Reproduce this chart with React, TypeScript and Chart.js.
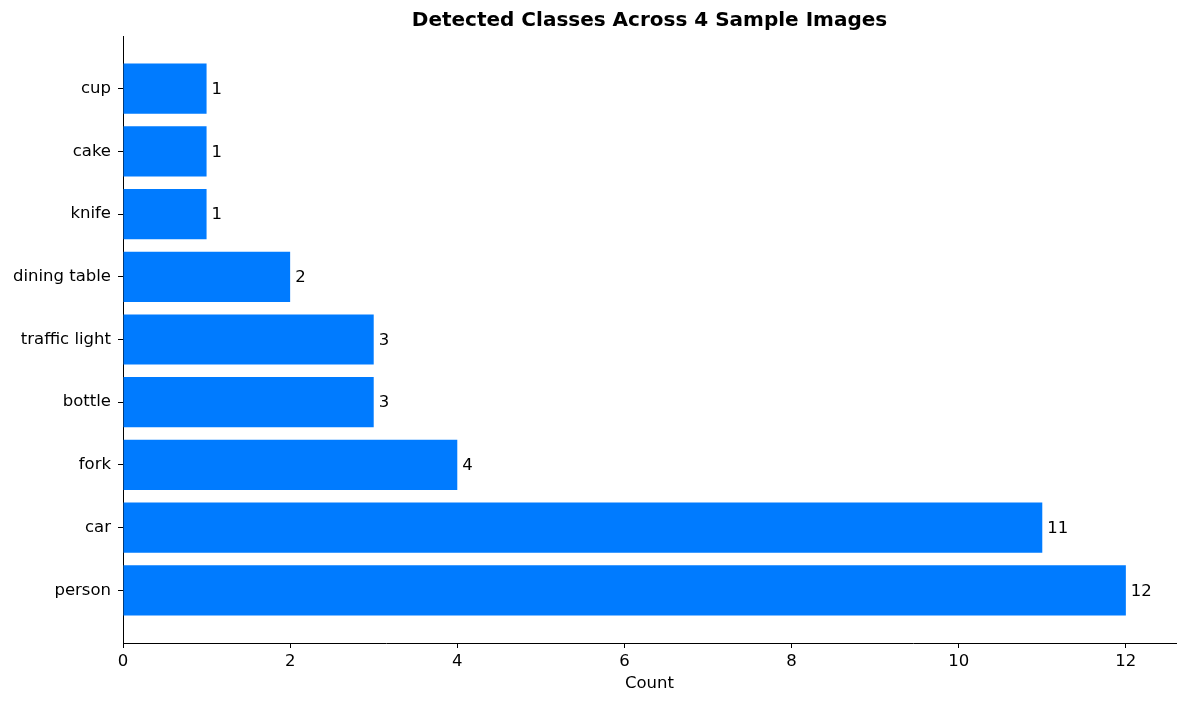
import React, { useEffect, useRef } from "react";
import { Chart, registerables } from "chart.js";

Chart.register(...registerables);

const categories = ["person", "car", "fork", "bottle", "traffic light", "dining table", "knife", "cake", "cup"];
const counts = [12, 11, 4, 3, 3, 2, 1, 1, 1];
const xTicks = [0, 2, 4, 6, 8, 10, 12];
const titleText = "Detected Classes Across 4 Sample Images";
const xLabel = "Count";
const barColor = "#007bff";
const FONT = "'DejaVu Sans', sans-serif";
const FS = 16.5;

export default function App() {
  const ref = useRef<HTMLCanvasElement | null>(null);

  useEffect(() => {
    document.body.style.margin = "0";
    const canvas = ref.current;
    if (!canvas) return;

    const overlay = {
      id: "overlay",
      afterDatasetsDraw(chart: any) {
        const ctx = chart.ctx;
        const meta = chart.getDatasetMeta(0);
        ctx.save();
        ctx.font = `${FS}px ${FONT}`;
        ctx.fillStyle = "#000";
        ctx.textAlign = "left";
        ctx.textBaseline = "middle";
        meta.data.forEach((bar: any, i: number) => {
          ctx.fillText(String(counts[i]), bar.x + 5, bar.y + 1);
        });
        ctx.restore();
      },
      afterDraw(chart: any) {
        const ctx = chart.ctx;
        const area = chart.chartArea;
        const cx = (area.left + area.right) / 2;
        ctx.save();
        ctx.fillStyle = "#000";
        ctx.textAlign = "center";
        ctx.textBaseline = "middle";
        ctx.font = `bold 20px ${FONT}`;
        ctx.fillText(titleText, cx, 21);
        ctx.font = `${FS}px ${FONT}`;
        ctx.fillText(xLabel, cx, 684);
        ctx.restore();
      },
    };

    const chart = new Chart(canvas, {
      type: "bar",
      data: {
        datasets: [
          {
            data: counts.map((v, i) => ({ x: v, y: i })),
            backgroundColor: barColor,
            borderWidth: 0,
            barPercentage: 1,
            categoryPercentage: 0.8,
          },
        ],
      },
      options: {
        indexAxis: "y",
        animation: false,
        responsive: false,
        maintainAspectRatio: false,
        layout: { padding: { left: 0, top: 36, right: 12, bottom: 0 } },
        plugins: {
          legend: { display: false },
          title: { display: false },
          tooltip: { enabled: false },
        },
        scales: {
          x: {
            type: "linear",
            min: 0,
            max: 12.6,
            offset: false,
            afterBuildTicks: (scale: any) => {
              scale.ticks = xTicks.map((v) => ({ value: v }));
            },
            afterFit: (scale: any) => {
              scale.height = 60;
            },
            grid: {
              offset: false,
              drawOnChartArea: false,
              drawTicks: true,
              tickLength: 5,
              color: "#000",
            },
            border: { display: true, color: "#000", width: 1 },
            ticks: {
              color: "#000",
              padding: 4,
              font: { family: FONT, size: FS },
              maxRotation: 0,
              callback: (v: any) => String(v),
            },
          },
          y: {
            type: "linear",
            min: -0.84,
            max: 8.84,
            offset: false,
            afterBuildTicks: (scale: any) => {
              scale.ticks = categories.map((_, i) => ({ value: i }));
            },
            afterFit: (scale: any) => {
              scale.width = 123;
            },
            grid: {
              offset: false,
              drawOnChartArea: false,
              drawTicks: true,
              tickLength: 5,
              color: "#000",
            },
            border: { display: true, color: "#000", width: 1 },
            ticks: {
              color: "#000",
              padding: 7,
              font: { family: FONT, size: FS },
              callback: (v: any) => categories[Math.round(v)] ?? "",
            },
          },
        },
      },
      plugins: [overlay],
    } as any);

    return () => chart.destroy();
  }, []);

  return (
    <div style={{ width: 1188, height: 703, background: "#fff" }}>
      <canvas ref={ref} width={1188} height={703} style={{ display: "block" }} />
    </div>
  );
}
